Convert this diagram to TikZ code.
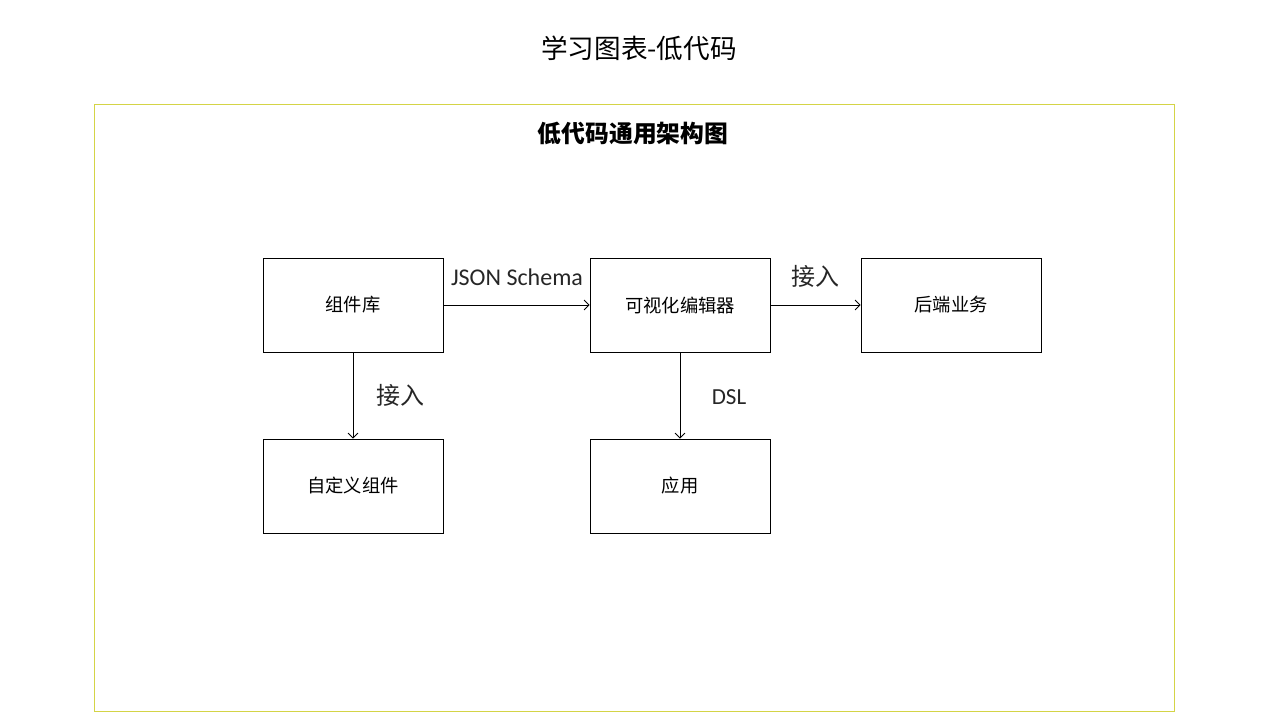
\documentclass[tikz,border=0pt]{standalone}
\usepackage{fontspec}
\setmainfont{Carlito}
\newfontfamily\cjk{Noto Sans CJK SC}
\usetikzlibrary{arrows.meta}
\definecolor{framecol}{RGB}{212,212,70}
\tikzset{
  box/.style={draw=black, line width=0.8pt, minimum width=180pt, minimum height=94pt, inner sep=0pt, font=\cjk\fontsize{18.3}{22}\selectfont},
  conn/.style={draw=black, line width=0.8pt, -{Straight Barb[length=5pt,width=10pt]}},
  lbl/.style={font=\cjk\fontsize{24}{28}\selectfont, text=black!85},
  lbllat/.style={font=\fontsize{23}{27}\selectfont, text=black!85}
}
\begin{document}
\begin{tikzpicture}[x=1pt,y=-1pt]
\useasboundingbox (0,0) rectangle (1280,720);
\node[font=\cjk\fontsize{26.6}{31}\selectfont] (title) at (639,48) {学习图表-低代码};
\draw[framecol, line width=1pt] (94,104) rectangle (1174,711);
\node[font=\cjk\bfseries\fontsize{23.8}{28}\selectfont] (sub) at (633,133) {低代码通用架构图};
\node[box] (lib) at (353,305) {组件库};
\node[box] (editor) at (680,305) {可视化编辑器};
\node[box] (backend) at (951,305) {后端业务};
\node[box] (custom) at (353,486) {自定义组件};
\node[box] (app) at (680,486) {应用};
\draw[conn] (lib) -- (editor);
\draw[conn] (editor) -- (backend);
\draw[conn] (lib) -- (custom);
\draw[conn] (editor) -- (app);
\node[lbllat, font=\fontsize{24}{28}\selectfont] (l1) at (517,277) {JSON Schema};
\node[lbl] (l2) at (815,276) {接入};
\node[lbl] (l3) at (400,395) {接入};
\node[lbllat] (l4) at (729,397) {DSL};
\end{tikzpicture}
\end{document}
